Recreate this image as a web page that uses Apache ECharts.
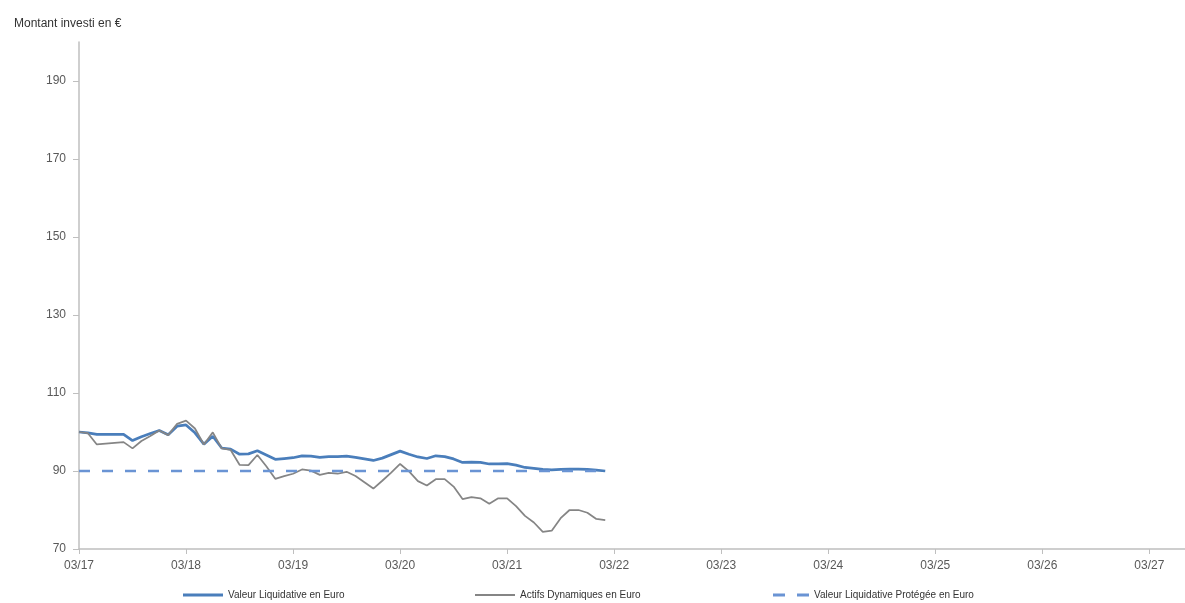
<!DOCTYPE html>
<html>
<head>
<meta charset="utf-8">
<script src="https://cdn.jsdelivr.net/npm/echarts@6/dist/echarts.min.js"></script>
<style>
  html, body { margin: 0; padding: 0; background: #fff; }
  #chart { width: 1185px; height: 603px; }
</style>
</head>
<body>
<div id="chart"></div>
<script>
// monthly points from 03/17 to 02/22
const valeurLiquidative = [
  100.0, 99.8, 99.4, 99.4, 99.4, 99.4, 97.8, 98.8, 99.6, 100.4, 99.3, 101.5,
  101.8, 99.8, 96.9, 98.9, 95.9, 95.6, 94.3, 94.4, 95.2, 94.1, 93.0, 93.2,
  93.4, 93.9, 93.8, 93.5, 93.7, 93.7, 93.8, 93.5, 93.1, 92.7, 93.3, 94.2,
  95.1, 94.3, 93.6, 93.2, 93.9, 93.7, 93.1, 92.2, 92.3, 92.2, 91.8, 91.8,
  91.9, 91.5, 90.9, 90.7, 90.4, 90.3, 90.4, 90.5, 90.5, 90.4, 90.2, 90.0
];
const actifsDynamiques = [
  100.0, 99.7, 96.8, 97.0, 97.2, 97.4, 95.8, 97.7, 99.0, 100.4, 99.2, 102.1,
  102.9, 100.9, 96.8, 99.9, 95.8, 95.4, 91.6, 91.5, 94.1, 91.2, 88.0, 88.7,
  89.3, 90.4, 90.1, 89.0, 89.5, 89.3, 89.8, 88.7, 87.1, 85.5, 87.5, 89.6,
  91.8, 89.9, 87.4, 86.3, 87.9, 87.9, 86.0, 82.8, 83.3, 83.0, 81.6, 83.0,
  83.0, 81.0, 78.5, 76.8, 74.4, 74.7, 77.9, 80.0, 80.0, 79.3, 77.7, 77.4
];
const valeurProtegee = valeurLiquidative.map(() => 90);

const yTicks = [70, 90, 110, 130, 150, 170, 190];

// axis months 03/17 .. 07/27
const months = [];
for (let i = 0; i <= 124; i++) {
  const m = ((2 + i) % 12) + 1;
  const y = 17 + Math.floor((2 + i) / 12);
  months.push(String(m).padStart(2, "0") + "/" + y);
}

const chart = echarts.init(document.getElementById("chart"));
const font = "Liberation Sans, Arial, sans-serif";
const axisColor = "#bfbfbf";

const legendBase = {
  top: 585,
  itemGap: 0,
  textStyle: { fontSize: 10, color: "#333", fontFamily: font },
};

chart.setOption({
  animation: false,
  title: {
    text: "Montant investi en €",
    left: 9,
    top: 13,
    textStyle: { fontSize: 12, fontWeight: "normal", color: "#333", fontFamily: font },
  },
  grid: { left: 79, right: -3, top: 42, bottom: 54 },
  legend: [
    Object.assign({}, legendBase, {
      left: 178, itemWidth: 40, itemHeight: 3, icon: "rect",
      data: ["Valeur Liquidative en Euro"],
    }),
    Object.assign({}, legendBase, {
      left: 470, itemWidth: 40, itemHeight: 2, icon: "rect",
      data: ["Actifs Dynamiques en Euro"],
    }),
    Object.assign({}, legendBase, {
      left: 768, itemWidth: 36, itemHeight: 3,
      icon: "path://M0,0H12V3H0Z M24,0H36V3H24Z",
      data: ["Valeur Liquidative Protégée en Euro"],
    }),
  ],
  xAxis: {
    type: "category",
    data: months,
    boundaryGap: false,
    axisLine: { lineStyle: { color: axisColor, width: 1.5 } },
    axisTick: { interval: 11, length: 5, lineStyle: { color: axisColor } },
    axisLabel: { interval: 11, color: "#595959", fontSize: 12, fontFamily: font, margin: 11 },
    splitLine: { show: false },
  },
  yAxis: {
    type: "value",
    min: 70,
    max: 200,
    axisLine: { show: true, lineStyle: { color: axisColor, width: 1.5 } },
    axisTick: { show: true, length: 6, customValues: yTicks, lineStyle: { color: axisColor } },
    axisLabel: { customValues: yTicks, color: "#595959", fontSize: 12, fontFamily: font, margin: 13 },
    splitLine: { show: false },
  },
  series: [
    {
      name: "Valeur Liquidative en Euro",
      type: "line",
      data: valeurLiquidative,
      symbol: "none",
      lineStyle: { color: "#4a7ebb", width: 2.75 },
      itemStyle: { color: "#4a7ebb" },
    },
    {
      name: "Actifs Dynamiques en Euro",
      type: "line",
      data: actifsDynamiques,
      symbol: "none",
      lineStyle: { color: "#858585", width: 1.75 },
      itemStyle: { color: "#858585" },
    },
    {
      name: "Valeur Liquidative Protégée en Euro",
      type: "line",
      data: valeurProtegee,
      symbol: "none",
      lineStyle: { color: "#6a94d4", width: 2.5, type: [11, 12] },
      itemStyle: { color: "#6a94d4" },
    },
  ],
});
</script>
</body>
</html>
